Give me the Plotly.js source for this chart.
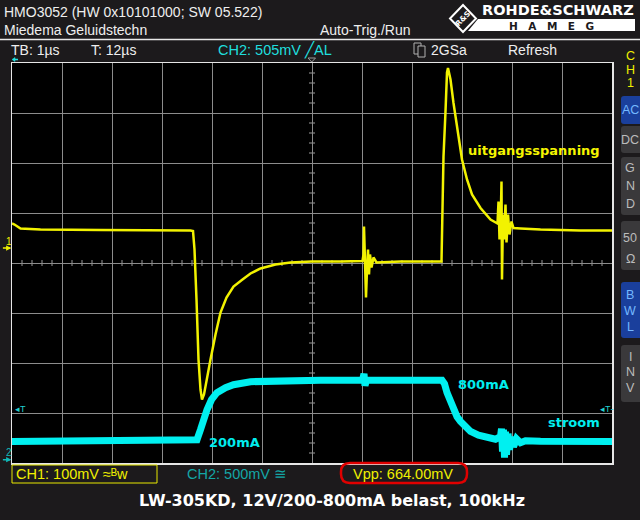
<!DOCTYPE html>
<html><head><meta charset="utf-8">
<script src="https://cdn.plot.ly/plotly-3.0.1.min.js"></script>
<style>html,body{margin:0;padding:0;background:#1c1a1c;}#chart{width:640px;height:520px;}</style>
</head><body><div id="chart"></div>
<script>
// ---- CH1 (yellow): output voltage, time in µs, AC-coupled voltage in mV (100 mV/div)
const ch1Time = [0.00,0.05,0.17,0.57,1.77,2.77,3.57,3.62,3.65,3.69,3.73,3.77,3.80,3.84,3.89,3.97,4.07,4.17,4.29,4.43,4.61,4.77,4.97,5.27,5.57,5.99,6.57,7.01,
  7.03,7.04,7.06,7.08,7.10,7.12,7.14,7.16,7.19,7.23,7.29,7.77,8.59,8.61,8.63,8.67,8.70,8.72,8.77,8.83,8.90,9.00,9.10,9.20,9.37,9.57,9.71,
  9.73,9.75,9.77,9.79,9.80,9.82,9.84,9.87,9.89,9.92,9.95,9.99,10.03,10.17,10.57,11.37,12.00];
const ch1mV = [49,47,39,37,36,36,35,34,-3,-103,-223,-283,-303,-293,-263,-223,-173,-129,-99,-77,-63,-51,-41,-33,-29,-27,-27,-26,
  -13,43,-27,-99,-43,-3,-53,-13,-39,-19,-29,-27,-27,71,183,273,351,360,337,290,243,177,137,107,80,57,49,
  93,17,37,133,-63,67,17,87,11,67,27,53,40,39,37,35,35];
// ---- CH2 (cyan): load current probe, time in µs, mV (500 mV/div)
const ch2Time = [0.00,3.66,3.70,3.77,3.83,3.90,3.99,4.10,4.27,4.43,4.77,5.43,6.17,7.01,7.04,7.06,7.09,8.60,8.65,8.70,8.77,8.83,8.90,8.97,9.07,9.17,9.33,9.50,9.67,
  9.77,9.79,9.81,9.83,9.85,9.87,9.89,9.92,9.95,9.99,10.03,10.09,10.17,10.27,10.57,12.00];
const ch2mV = [183,183,200,300,400,500,600,670,720,750,780,790,795,795,860,740,795,795,760,670,580,500,430,383,330,283,245,217,205,
  230,310,80,300,20,280,50,260,100,230,130,210,170,190,185,183];
// ---- readouts
const headerLines = ['HMO3052 (HW 0x10101000; SW 05.522)','Miedema Geluidstechn'];
const trigMode = 'Auto-Trig./Run';
const infoTB = 'TB: 1µs', infoT = 'T: 12µs', infoTrig = 'CH2: 505mV ╱AL', infoRate = '2GSa', infoAcq = 'Refresh';
const ch1Readout = 'CH1: 100mV ≈ᴮw', ch2Readout = 'CH2: 500mV ≅', measReadout = 'Vpp: 664.00mV';
const chartTitle = 'LW-305KD, 12V/200-800mA belast, 100kHz';
const traceLabels = ['uitgangsspanning','800mA','stroom','200mA'];
const trigLevel2 = 505;

// pixel -> paper helpers (plot area 12..612 x 63..463)
const L=12, T=63, W=600, H=400;
const X = p => (p - L) / W;
const Y = p => (T + H - p) / H;
const F = 'Liberation Sans, Arial, sans-serif';
const FB = 'DejaVu Sans, Verdana, sans-serif';

const ann = [];
function A(text, x, y, o) {
  o = o || {};
  ann.push({text, xref:'paper', yref:'paper', x:X(x), y:Y(y), xanchor:o.xa||'left', yanchor:'middle',
    showarrow:false, font:{family:o.f||F, size:o.s||14, color:o.c||'#eeeeee', weight:o.w||'normal'}, borderpad:0});
}
// header
A(headerLines[0], 3, 12);
A(headerLines[1], 3, 30);
A(trigMode, 319, 30);
A(infoTB, 10, 50); A(infoT, 90, 50);
A(infoTrig, 217, 50, {c:'#20dede', s:14.5});
A(infoRate, 430, 50); A(infoAcq, 507, 50);
// logo
A('ROHDE&SCHWARZ', 558, 10.5, {xa:'center', f:FB, w:'bold', s:14.5, c:'#ffffff'});
A('H\u2003A\u2003M\u2003E\u2003G', 551, 26, {xa:'center', f:FB, w:'bold', s:10.5, c:'#1c1a1c'});
ann.push({text:'R&S', xref:'paper', yref:'paper', x:X(463), y:Y(18.5), xanchor:'center', yanchor:'middle', showarrow:false, textangle:-45,
  font:{family:FB, size:7.5, color:'#ffffff', weight:'bold'}});
// right panel
A('C', 630, 56, {xa:'center', s:12.5, c:'#f0f000'});
A('H', 630, 69.5, {xa:'center', s:12.5, c:'#f0f000'});
A('1', 630, 83, {xa:'center', s:12.5, c:'#f0f000'});
const btnLetters = [['AC',110,1],['DC',140,0],['G',168,0],['N',186,0],['D',204,0],['50',238,0],['Ω',259,0],
  ['B',295,1],['W',311,1],['L',327,1],['I',357,0],['N',372,0],['V',388,0]];
btnLetters.forEach(b => A(b[0], 630, b[1], {xa:'center', s:12.5, c: b[2] ? '#74b8ff' : '#bcbcbc'}));
// trace labels
A(traceLabels[0], 467, 150, {f:FB, w:'bold', s:13, c:'#f5f500'});
A(traceLabels[1], 457, 384, {f:FB, w:'bold', s:13, c:'#00eeee'});
A(traceLabels[2], 547, 422, {f:FB, w:'bold', s:13, c:'#00eeee'});
A(traceLabels[3], 208, 442, {f:FB, w:'bold', s:13, c:'#00eeee'});
// channel / trigger markers (axis referenced)
ann.push({text:'', xref:'paper', yref:'y', x:-0.001, y:0, showarrow:true, arrowhead:2, arrowsize:0.7, arrowwidth:1.5,
  arrowcolor:'#f0f000', ax:-10, ay:0});
ann.push({text:'1', xref:'paper', yref:'y', x:-0.013, y:0, yshift:7, showarrow:false, font:{family:F, size:10, color:'#f0f000'}});
ann.push({text:'', xref:'paper', yref:'y2', x:-0.001, y:0, showarrow:true, arrowhead:2, arrowsize:0.7, arrowwidth:1.5,
  arrowcolor:'#10b8b8', ax:-10, ay:0});
ann.push({text:'2', xref:'paper', yref:'y2', x:-0.013, y:0, yshift:7, showarrow:false, font:{family:F, size:10, color:'#10b8b8'}});
ann.push({text:'◂T', xref:'paper', yref:'y2', x:X(13), y:trigLevel2, xanchor:'left', showarrow:false, font:{family:F, size:9, color:'#20d0d0'}});
ann.push({text:'◂T‑', xref:'paper', yref:'y2', x:X(598), y:trigLevel2, xanchor:'left', showarrow:false, font:{family:F, size:9, color:'#20d0d0'}});
// bottom readouts
A(ch1Readout, 14.5, 474, {c:'#f0f000', s:14.5});
A(ch2Readout, 186, 474, {c:'#14a6a6', s:14.5});
A(measReadout, 352, 473.5, {c:'#f0f000', s:14.5});
A(chartTitle, 332, 500, {xa:'center', f:FB, w:'bold', s:16, c:'#ffffff'});

// shapes
const shp = [];
function R(x0,y0,x1,y1,fill,line,lw){ shp.push({type:'rect', xref:'paper', yref:'paper', x0:X(x0), x1:X(x1), y0:Y(y0), y1:Y(y1),
  fillcolor:fill||'rgba(0,0,0,0)', line:{color:line||'rgba(0,0,0,0)', width:lw||0}, layer:'above'}); }
function P(pts, fill, line, lw){ shp.push({type:'path', xref:'paper', yref:'paper',
  path:'M'+pts.map(q => X(q[0])+','+Y(q[1])).join(' L')+(fill ? ' Z' : ''),
  fillcolor:fill||'rgba(0,0,0,0)', line:{color:line||'rgba(0,0,0,0)', width:lw||0}}); }
function rr(x0,y0,x1,y1,r){ // rounded rect path in paper coords
  const p = (x,y) => X(x)+','+Y(y);
  return 'M'+p(x0+r,y0)+' L'+p(x1-r,y0)+' Q'+p(x1,y0)+' '+p(x1,y0+r)+' L'+p(x1,y1-r)+' Q'+p(x1,y1)+' '+p(x1-r,y1)+
    ' L'+p(x0+r,y1)+' Q'+p(x0,y1)+' '+p(x0,y1-r)+' L'+p(x0,y0+r)+' Q'+p(x0,y0)+' '+p(x0+r,y0)+' Z';
}
// header separator
shp.push({type:'line', xref:'paper', yref:'paper', x0:X(0), x1:X(640), y0:Y(39.5), y1:Y(39.5), line:{color:'#e8e8e8', width:1.5}});
// copy icon
R(414,43,421,54,null,'#b0b0b0',1); R(418,46,425,57,'#1c1a1c','#b0b0b0',1);
// trigger-position markers at the top of the screen
P([[308,58],[315.5,58],[311.7,62]], '#1c1a1c', '#9a9a9a', 1);
P([[12,59.5],[15,57.5],[15,61.5]], '#20e0e0', '#20e0e0', 0.5);
P([[15,59.5],[18,59.5]], null, '#20e0e0', 1.5);
// logo: HAMEG band then diamond
shp.push({type:'path', xref:'paper', yref:'paper', path:'M'+X(478)+','+Y(19)+' L'+X(635)+','+Y(19)+' L'+X(635)+','+Y(31)+' L'+X(468)+','+Y(31)+' Z',
  fillcolor:'#ffffff', line:{width:0}});
shp.push({type:'path', xref:'paper', yref:'paper', path:'M'+X(463)+','+Y(5)+' L'+X(476)+','+Y(18.5)+' L'+X(463)+','+Y(32)+' L'+X(450)+','+Y(18.5)+' Z',
  fillcolor:'#1c1a1c', line:{color:'#ffffff', width:2}});
// right panel buttons
const btns = [[96,124,1],[126,153,0],[157,215,0],[221,270,0],[282,338,1],[345,402,0]];
btns.forEach(b => shp.push({type:'path', xref:'paper', yref:'paper', path:rr(621,b[0],644,b[1],3),
  fillcolor: b[2] ? '#1a3f9c' : '#3a393b', line:{width:0}}));
// bottom boxes
R(12,465,157,483,null,'#e8e800',1);
shp.push({type:'path', xref:'paper', yref:'paper', path:rr(341,463,467,483,9), line:{color:'#e00000', width:2.5}});
// graticule ticks on centre lines
for (let k=1;k<60;k++){ if(k%5===0) continue; const t=k*0.2;
  shp.push({type:'line', xref:'x', yref:'y', x0:t, x1:t, y0:-36, y1:-24, line:{color:'#9a9a9a', width:1}, layer:'below'}); }
for (let k=1;k<40;k++){ if(k%5===0) continue; const v=-430+k*20;
  shp.push({type:'line', xref:'x', yref:'y', x0:5.94, x1:6.06, y0:v, y1:v, line:{color:'#9a9a9a', width:1}, layer:'below'}); }

const traces = [
  {x:ch2Time, y:ch2mV, yaxis:'y2', type:'scatter', mode:'lines', line:{color:'#00f0f0', width:7}, hoverinfo:'skip'},
  {x:ch1Time, y:ch1mV, yaxis:'y', type:'scatter', mode:'lines', line:{color:'#f2f200', width:2.5}, hoverinfo:'skip'}
];
const ax = {showgrid:true, gridcolor:'#8c8c8c', gridwidth:1, zeroline:false, showticklabels:false, ticks:'',
  showline:true, mirror:true, linecolor:'#e6e6e6', linewidth:1.5, fixedrange:true};
const layout = {
  width:640, height:520, margin:{l:L, r:640-L-W, t:T, b:520-T-H, pad:0},
  paper_bgcolor:'#1c1a1c', plot_bgcolor:'#000000', showlegend:false,
  xaxis:Object.assign({range:[0,12], tick0:0, dtick:1}, ax),
  yaxis:Object.assign({range:[-430,370], tick0:-30, dtick:100}, ax),
  yaxis2:{range:[-33,3967], overlaying:'y', visible:false, showgrid:false, fixedrange:true},
  shapes:shp, annotations:ann
};
Plotly.newPlot('chart', traces, layout, {staticPlot:true, displayModeBar:false});
</script></body></html>
